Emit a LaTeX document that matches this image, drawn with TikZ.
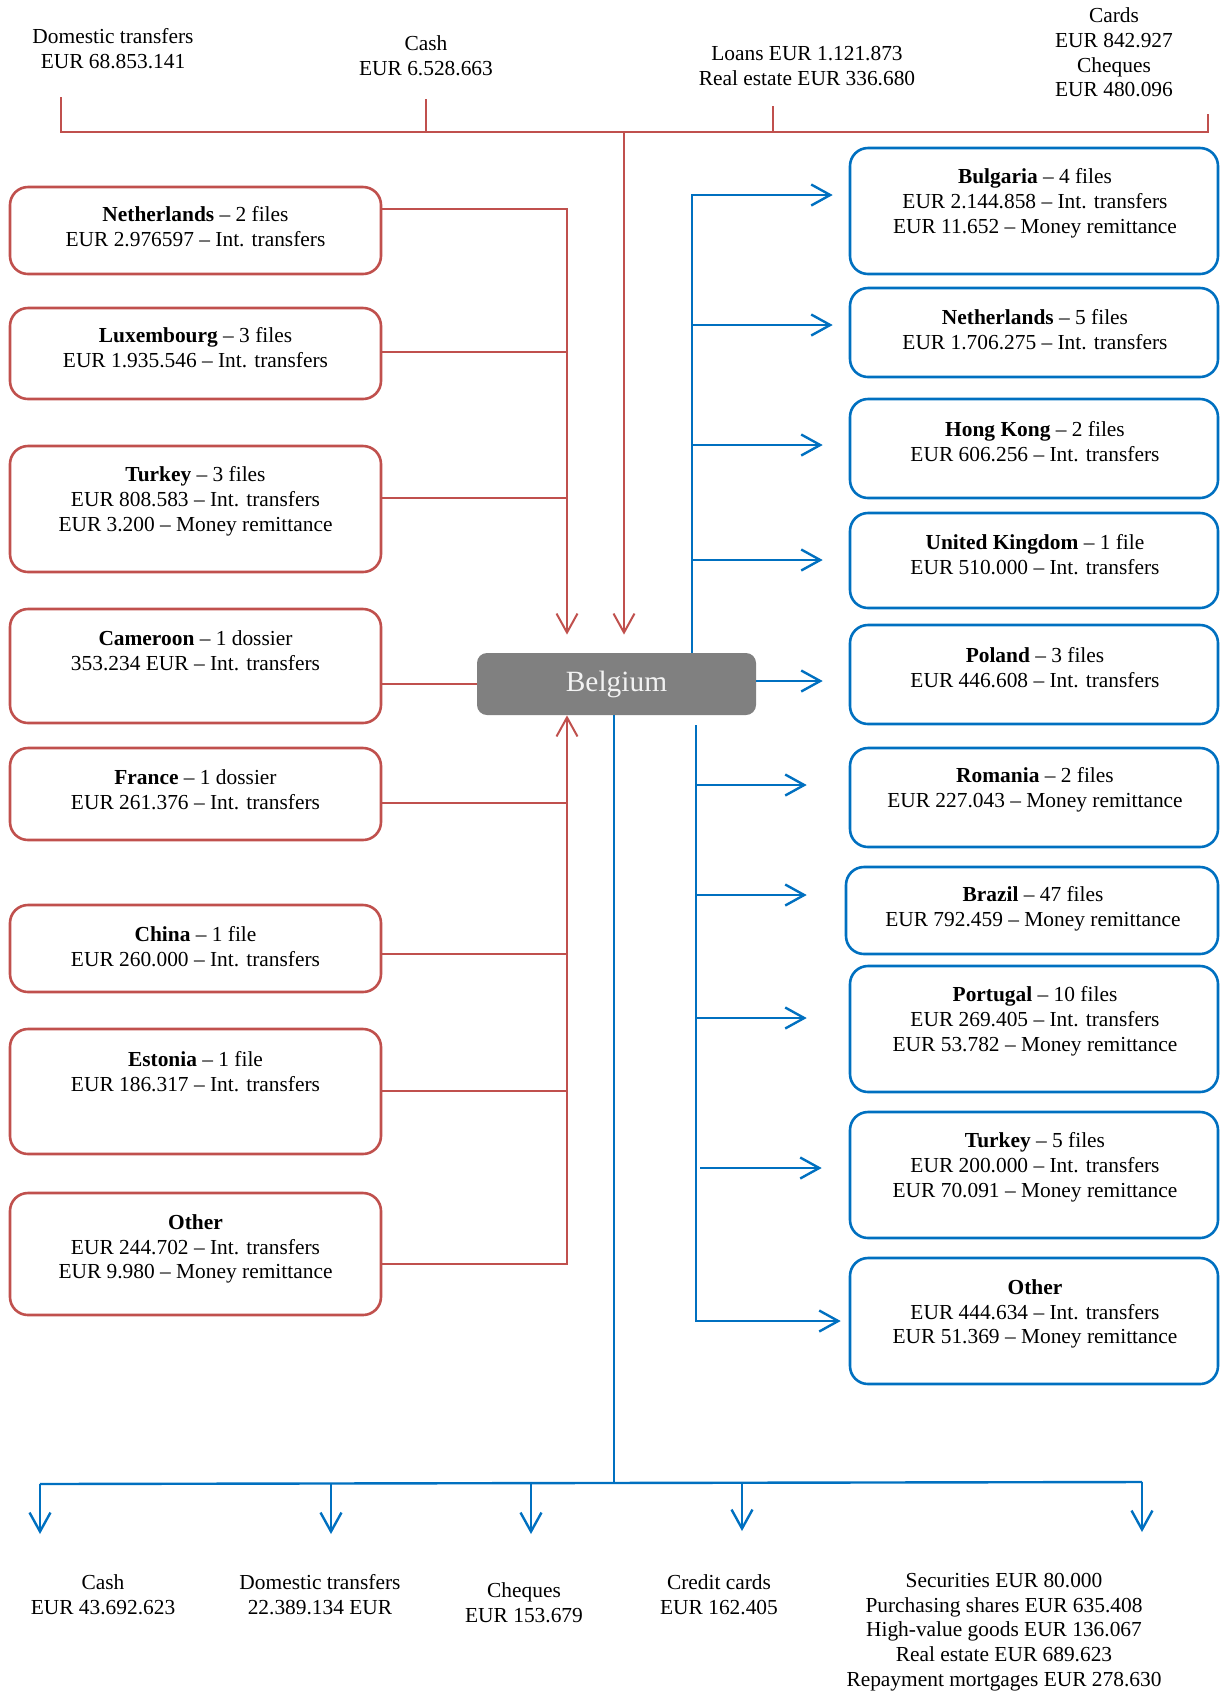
\documentclass[tikz,border=0pt]{standalone}
\usepackage{fontspec}
\setmainfont{Liberation Serif}
\usetikzlibrary{arrows.meta,calc}
\definecolor{rd}{HTML}{C0504D}
\definecolor{bu}{HTML}{0070C0}
\definecolor{belg}{HTML}{808080}
\definecolor{belt}{HTML}{F2F2F2}
\begin{document}
\begin{tikzpicture}[x=0.5pt,y=-0.5pt,
  txt/.style={align=center,font=\fontsize{10.7}{12.4}\selectfont,inner sep=0pt},
  btxt/.style={txt,yshift=-1pt},
  rbox/.style={draw=rd,line width=1.3pt,rounded corners=9pt,minimum width=185.5pt,inner sep=0pt},
  bbox/.style={draw=bu,line width=1.3pt,rounded corners=9pt,minimum width=184pt,inner sep=0pt},
  rl/.style={draw=rd,line width=1pt},
  bl/.style={draw=bu,line width=1.2pt},
  tip/.style={-{Straight Barb[length=9.5pt,width=10.5pt]}},
]
\useasboundingbox (0,0) rectangle (1220,1693);

% ---------- Belgium ----------
\node[fill=belg,rounded corners=5pt,minimum width=139.5pt,minimum height=31pt,inner sep=0pt,
      text=belt,font=\fontsize{14.7}{16}\selectfont] (bel) at (616.5,684) {Belgium};

% ---------- top labels ----------
\node[txt] (tDom)  at (113,48.5) {Domestic transfers\\EUR 68.853.141};
\node[txt] (tCash) at (426,56)   {Cash\\EUR 6.528.663};
\node[txt] (tLoan) at (807,66)   {Loans EUR 1.121.873\\Real estate EUR 336.680};
\node[txt] (tCard) at (1114,52.5){Cards\\EUR 842.927\\Cheques\\EUR 480.096};

% ---------- left boxes ----------
\node[rbox,minimum height=43.5pt] (lNL) at (195.5,230.5) {};
\node[rbox,minimum height=45.5pt] (lLU) at (195.5,353.5) {};
\node[rbox,minimum height=63pt]   (lTR) at (195.5,509) {};
\node[rbox,minimum height=57pt]   (lCM) at (195.5,666) {};
\node[rbox,minimum height=46pt]   (lFR) at (195.5,794) {};
\node[rbox,minimum height=43.5pt] (lCN) at (195.5,948.5) {};
\node[rbox,minimum height=62.5pt] (lEE) at (195.5,1091.5) {};
\node[rbox,minimum height=61pt]   (lOT) at (195.5,1254) {};

\node[btxt] (xlNL) at (195.5,225)   {\textbf{Netherlands} -- 2 files\\EUR 2.976597 -- Int. transfers};
\node[btxt] (xlLU) at (195.5,346)   {\textbf{Luxembourg} -- 3 files\\EUR 1.935.546 -- Int. transfers};
\node[btxt] (xlTR) at (195.5,499)   {\textbf{Turkey} -- 3 files\\EUR 808.583 -- Int. transfers\\EUR 3.200 -- Money remittance};
\node[btxt] (xlCM) at (195.5,648.5) {\textbf{Cameroon} -- 1 dossier\\353.234 EUR -- Int. transfers};
\node[btxt] (xlFR) at (195.5,787.5) {\textbf{France} -- 1 dossier\\EUR 261.376 -- Int. transfers};
\node[btxt] (xlCN) at (195.5,944.5) {\textbf{China} -- 1 file\\EUR 260.000 -- Int. transfers};
\node[btxt] (xlEE) at (195.5,1069.5){\textbf{Estonia} -- 1 file\\EUR 186.317 -- Int. transfers};
\node[btxt] (xlOT) at (195.5,1247)  {\textbf{Other}\\EUR 244.702 -- Int. transfers\\EUR 9.980 -- Money remittance};

% ---------- right boxes ----------
\node[bbox,minimum height=63pt]   (rBG) at (1034,211) {};
\node[bbox,minimum height=44.5pt] (rNL) at (1034,332.5) {};
\node[bbox,minimum height=49.5pt] (rHK) at (1034,448.5) {};
\node[bbox,minimum height=47.5pt] (rUK) at (1034,560.5) {};
\node[bbox,minimum height=49.5pt] (rPL) at (1034,674.5) {};
\node[bbox,minimum height=49.5pt] (rRO) at (1034,797.5) {};
\node[bbox,minimum height=43.5pt,minimum width=186pt] (rBR) at (1032,910.5) {};
\node[bbox,minimum height=63pt]   (rPT) at (1034,1029) {};
\node[bbox,minimum height=63pt]   (rTR) at (1034,1175) {};
\node[bbox,minimum height=63pt]   (rOT) at (1034,1321) {};

\node[btxt] (xrBG) at (1035,201)   {\textbf{Bulgaria} -- 4 files\\EUR 2.144.858 -- Int. transfers\\EUR 11.652 -- Money remittance};
\node[btxt] (xrNL) at (1035,328)   {\textbf{Netherlands} -- 5 files\\EUR 1.706.275 -- Int. transfers};
\node[btxt] (xrHK) at (1035,439.5) {\textbf{Hong Kong} -- 2 files\\EUR 606.256 -- Int. transfers};
\node[btxt] (xrUK) at (1035,553)   {\textbf{United Kingdom} -- 1 file\\EUR 510.000 -- Int. transfers};
\node[btxt] (xrPL) at (1035,665.5) {\textbf{Poland} -- 3 files\\EUR 446.608 -- Int. transfers};
\node[btxt] (xrRO) at (1035,788)   {\textbf{Romania} -- 2 files\\EUR 227.043 -- Money remittance};
\node[btxt] (xrBR) at (1033,907)   {\textbf{Brazil} -- 47 files\\EUR 792.459 -- Money remittance};
\node[btxt] (xrPT) at (1035,1019)  {\textbf{Portugal} -- 10 files\\EUR 269.405 -- Int. transfers\\EUR 53.782 -- Money remittance};
\node[btxt] (xrTR) at (1035,1165)  {\textbf{Turkey} -- 5 files\\EUR 200.000 -- Int. transfers\\EUR 70.091 -- Money remittance};
\node[btxt] (xrOT) at (1035,1312)  {\textbf{Other}\\EUR 444.634 -- Int. transfers\\EUR 51.369 -- Money remittance};

% ---------- bottom labels ----------
\node[txt] (bCash) at (103,1594.5) {Cash\\EUR 43.692.623};
\node[txt] (bDom)  at (320,1594.5) {Domestic transfers\\22.389.134 EUR};
\node[txt] (bChq)  at (524,1602.5) {Cheques\\EUR 153.679};
\node[txt] (bCrd)  at (719,1594.5) {Credit cards\\EUR 162.405};
\node[txt] (bSec)  at (1004,1632)  {Securities EUR 80.000\\Purchasing shares EUR 635.408\\High-value goods EUR 136.067\\Real estate EUR 689.623\\Repayment mortgages EUR 278.630};

% ---------- red connectors ----------
\coordinate (rx) at (567,0);
\coordinate (cx) at (624,0);
\draw[rl] (61,97) -- (61,132) -| (1208,114);
\draw[rl] (426,99) -- (426,132);
\draw[rl] (773,106) -- (773,132);
\draw[rl,tip] (cx |- 0,132) -- ($(bel.north -| cx)+(0,-18)$);

\draw[rl,tip] (lNL.east |- 0,209) -| ($(bel.north -| rx)+(0,-18)$);
\draw[rl] (lLU.east |- 0,352) -- (rx |- 0,352);
\draw[rl] (lTR.east |- 0,498) -- (rx |- 0,498);
\draw[rl] (lCM.east |- bel.west) -- (bel.west);
\draw[rl] (lFR.east |- 0,803) -- (rx |- 0,803);
\draw[rl] (lCN.east |- 0,954) -- (rx |- 0,954);
\draw[rl] (lEE.east |- 0,1091) -- (rx |- 0,1091);
\draw[rl,tip] (lOT.east |- 0,1264) -| (bel.south -| rx);

% ---------- blue connectors (right) ----------
\coordinate (bu) at (692,0);
\coordinate (bd) at (696,0);
\draw[bl,tip] (bel.north -| bu) |- ($(rBG.west |- 0,195)+(-16,0)$);
\draw[bl,tip] (bu |- 0,325) -- ($(rNL.west |- 0,325)+(-16,0)$);
\draw[bl,tip] (bu |- 0,445) -- ($(rHK.west |- 0,445)+(-26,0)$);
\draw[bl,tip] (bu |- 0,560) -- ($(rUK.west |- 0,560)+(-26,0)$);
\draw[bl,tip] (bel.east |- 0,681) -- ($(rPL.west |- 0,681)+(-26,0)$);

\draw[bl,tip] (bd |- 0,725) |- ($(rOT.west |- 0,1321)+(-8,0)$);
\draw[bl,tip] (bd |- 0,785) -- ($(rRO.west |- 0,785)+(-42,0)$);
\draw[bl,tip] (bd |- 0,895) -- ($(rBR.west |- 0,895)+(-38,0)$);
\draw[bl,tip] (bd |- 0,1018) -- ($(rPT.west |- 0,1018)+(-42,0)$);
\draw[bl,tip] (700,1168) -- ($(rTR.west |- 0,1168)+(-27,0)$);

% ---------- blue connectors (bottom) ----------
\coordinate (eCash) at (40,1534);
\coordinate (eDom)  at (331,1534);
\coordinate (eChq)  at (531,1534);
\coordinate (eCrd)  at (742,1531);
\coordinate (eSec)  at (1142,1532);
\draw[bl] (bel.south -| 614,0) -- (614,1483);
\draw[bl] (40,1484) -- (1142,1482);
\draw[bl,tip] (eCash |- 0,1484) -- (eCash);
\draw[bl,tip] (eDom |- 0,1483) -- (eDom);
\draw[bl,tip] (eChq |- 0,1483) -- (eChq);
\draw[bl,tip] (eCrd |- 0,1482) -- (eCrd);
\draw[bl,tip] (eSec |- 0,1482) -- (eSec);
\end{tikzpicture}
\end{document}
